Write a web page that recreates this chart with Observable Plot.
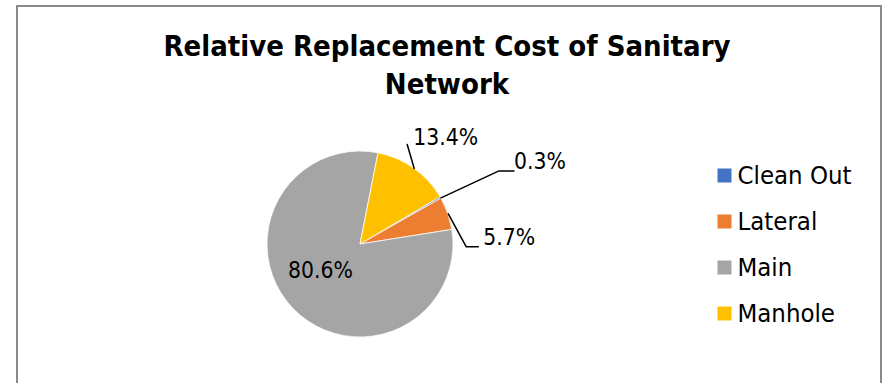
<!DOCTYPE html>
<html>
<head>
<meta charset="utf-8">
<script src="https://cdn.jsdelivr.net/npm/d3@7"></script>
<script src="https://cdn.jsdelivr.net/npm/@observablehq/plot@0.6"></script>
<style>
  body { margin: 0; background: #fff; }
  #chart { position: relative; width: 882px; height: 383px; overflow: hidden; background: #fff;
           font-family: 'DejaVu Sans Condensed', 'DejaVu Sans', sans-serif; font-stretch: condensed; }
  #frame { position: absolute; left: 16px; top: 5px; width: 866px; height: 430px;
           border: 2px solid #8c8c8c; box-sizing: border-box; }
  #title { position: absolute; left: 147px; top: 27px; width: 600px; text-align: center;
           font-weight: bold; font-size: 29px; line-height: 38px; color: #000; }
  #pie { position: absolute; left: 0; top: 0; }
  #legend { position: absolute; left: 710px; top: 140px; }
</style>
</head>
<body>
<div id="chart">
  <div id="frame"></div>
  <div id="title">Relative Replacement Cost of Sanitary Network</div>
  <div id="pie"></div>
  <div id="legend"></div>
</div>
<script>
// ---- data ----
const categories = ["Clean Out", "Lateral", "Main", "Manhole"];
const shares = [0.3, 5.7, 80.6, 13.4];
const labelTexts = ["0.3%", "5.7%", "80.6%", "13.4%"];
const colors = ["#4472C4", "#ED7D31", "#A5A5A5", "#FFC000"];
const firstSliceAngle = 59.4; // degrees, clockwise from 12 o'clock

// ---- layout ----
const fontFamily = "'DejaVu Sans Condensed', 'DejaVu Sans', sans-serif";
const xRange = [267, 453], yRange = [337, 151];
const R = (xRange[1] - xRange[0]) / 2;
// leader offsets in pixels (y down) relative to the slice's outer mid point
const labelLayout = {
  "Clean Out": {elbow: [58, -27], tail: 15, text: [0, -9.5]},
  "Lateral":   {elbow: [18, 33],  tail: 12, text: [5, -9]},
  "Main":      {inside: [-40, 26]},
  "Manhole":   {elbow: [-7, -24], tail: 0,  text: [6, -7.3]}
};

const rows = categories.map((c, i) => ({category: c, share: shares[i], label: labelTexts[i]}));
const start = firstSliceAngle * Math.PI / 180;
const arcs = d3.pie().sort(null).value(d => d.share)
  .startAngle(start).endAngle(start + 2 * Math.PI)(rows);

const leaderPts = [];
const outsideLabels = [];
const insideLabels = [];
for (const a of arcs) {
  const cat = a.data.category;
  const L = labelLayout[cat];
  const mid = (a.startAngle + a.endAngle) / 2;
  if (L.inside) {
    insideLabels.push({x: L.inside[0] / R, y: -L.inside[1] / R, text: a.data.label});
    continue;
  }
  const p0 = [Math.sin(mid), Math.cos(mid)];
  const p1 = [p0[0] + L.elbow[0] / R, p0[1] - L.elbow[1] / R];
  const p2 = [p1[0] + L.tail / R, p1[1]];
  for (const p of [p0, p1, p2]) leaderPts.push({category: cat, x: p[0], y: p[1]});
  outsideLabels.push({x: p2[0] + L.text[0] / R, y: p2[1] - L.text[1] / R, text: a.data.label});
}

function slices(index, scales) {
  const color = scales.color || d3.scaleOrdinal(categories, colors);
  const cx = scales.x(0), cy = scales.y(0), r = scales.x(1) - scales.x(0);
  const arc = d3.arc().innerRadius(0).outerRadius(r);
  const g = d3.create("svg:g").attr("transform", `translate(${cx},${cy})`);
  g.selectAll("path").data(arcs).join("path")
    .attr("d", arc)
    .attr("fill", d => color(d.data.category))
    .attr("stroke", "#fff").attr("stroke-width", 0.75);
  return g.node();
}

const pie = Plot.plot({
  width: 882, height: 383,
  marginTop: 0, marginRight: 0, marginBottom: 0, marginLeft: 0,
  style: {fontFamily, background: "transparent", overflow: "visible"},
  x: {domain: [-1, 1], range: xRange, axis: null},
  y: {domain: [-1, 1], range: yRange, axis: null},
  color: {domain: categories, range: colors},
  marks: [
    Plot.dot(categories, {x: 0, y: 0, fill: d => d, r: 0}),
    slices,
    Plot.line(leaderPts, {x: "x", y: "y", z: "category", stroke: "#000", strokeWidth: 1.5}),
    Plot.text(outsideLabels, {x: "x", y: "y", text: "text", textAnchor: "start",
      fontSize: 22.7, fill: "#000", fontFamily}),
    Plot.text(insideLabels, {x: "x", y: "y", text: "text", textAnchor: "middle",
      fontSize: 22.7, fill: "#000", fontFamily})
  ]
});
document.getElementById("pie").appendChild(pie);

const legend = Plot.plot({
  width: 170, height: 200,
  marginTop: 0, marginRight: 0, marginBottom: 0, marginLeft: 14,
  style: {fontFamily, background: "transparent", overflow: "visible"},
  y: {type: "point", domain: categories, range: [34, 174], padding: 0, axis: null},
  color: {domain: categories, range: colors},
  marks: [
    Plot.dot(categories, {y: d => d, frameAnchor: "left", symbol: "square", r: 7.9,
      fill: d => d, stroke: null}),
    Plot.text(categories, {y: d => d, frameAnchor: "left", dx: 13, text: d => d,
      textAnchor: "start", fontSize: 25.5, fill: "#000", fontFamily})
  ]
});
document.getElementById("legend").appendChild(legend);
</script>
</body>
</html>
